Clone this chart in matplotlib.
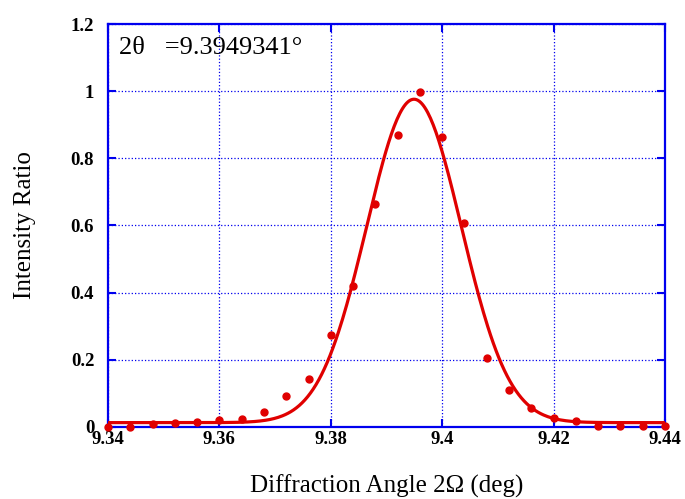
import numpy as np
from matplotlib import pyplot as plt

# measured points (angle in deg, normalised intensity)
angle = [9.340, 9.344, 9.348, 9.352, 9.356, 9.360, 9.364, 9.368, 9.372, 9.376,
         9.380, 9.384, 9.388, 9.392, 9.396, 9.400, 9.404, 9.408, 9.412, 9.416,
         9.420, 9.424, 9.428, 9.432, 9.436, 9.440]
intensity = [0.000, 0.000, 0.009, 0.012, 0.015, 0.021, 0.025, 0.046, 0.092, 0.144,
             0.273, 0.420, 0.664, 0.870, 0.998, 0.864, 0.608, 0.205, 0.109, 0.057,
             0.027, 0.019, 0.002, 0.002, 0.002, 0.003]

# gaussian fit parameters
fit_center = 9.3949341
fit_amp = 0.963
fit_sigma = 0.0085
fit_base = 0.013

xticks = [9.34, 9.36, 9.38, 9.40, 9.42, 9.44]
xtick_labels = ['9.34', '9.36', '9.38', '9.4', '9.42', '9.44']
yticks = [0, 0.2, 0.4, 0.6, 0.8, 1.0, 1.2]
ytick_labels = ['0', '0.2', '0.4', '0.6', '0.8', '1', '1.2']

plt.rcParams['font.family'] = ['Liberation Serif', 'DejaVu Serif']
blue = '#0000ee'
red = '#e00000'

fig = plt.figure(figsize=(6.85, 4.99), dpi=100)
ax = fig.add_axes([0.1577, 0.1443, 0.8131, 0.8076])

xf = np.linspace(9.34, 9.44, 400)
yf = fit_base + fit_amp * np.exp(-(xf - fit_center) ** 2 / (2 * fit_sigma ** 2))
ax.plot(xf, yf, color=red, lw=2.3, zorder=3)
ax.plot(angle, intensity, 'o', color=red, ms=5, clip_on=False, zorder=4)

ax.set_xlim(9.34, 9.44)
ax.set_ylim(0, 1.2)
ax.set_xticks(xticks)
ax.set_xticklabels(xtick_labels, fontweight='bold', fontsize=13.5)
ax.set_yticks(yticks)
ax.set_yticklabels(ytick_labels, fontweight='bold', fontsize=13.5)
ax.tick_params(direction='in', length=6, width=1.5, color=blue,
               top=True, right=True, pad=3)
ax.tick_params(axis='y', pad=10)
for s in ax.spines.values():
    s.set_color(blue)
    s.set_linewidth(1.6)
ax.grid(True, color=blue, linestyle=':', linewidth=0.9)

ax.set_xlabel('Diffraction Angle 2Ω (deg)', fontsize=18, labelpad=19)
ax.set_ylabel('Intensity Ratio', fontsize=18, labelpad=25)
ax.text(0.02, 0.94, '2θ   =9.3949341°', transform=ax.transAxes,
        fontsize=19, va='center', ha='left')

plt.savefig('out.png', dpi=100)
plt.close()
